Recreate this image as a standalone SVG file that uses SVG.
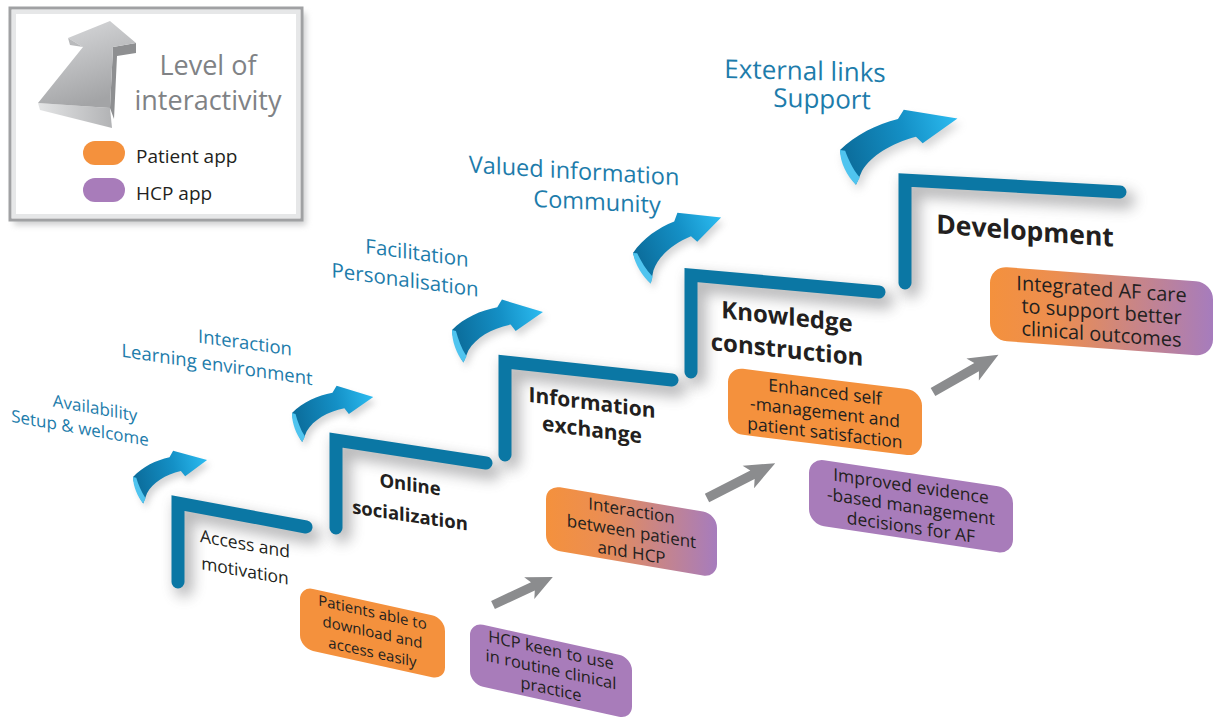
<svg xmlns="http://www.w3.org/2000/svg" width="1215" height="722" viewBox="0 0 1215 722">
  <defs>
    <style>
      text { font-family: "Open Sans", "Noto Sans", "Liberation Sans", sans-serif; }
      .lbl { fill: #1d7cab; text-anchor: middle; }
      .step { fill: #231f20; font-weight: 700; text-anchor: middle; }
      .stepr { fill: #231f20; text-anchor: middle; }
      .bt { fill: #231f20; text-anchor: middle; }
      .stair { fill: none; stroke: #0b77a4; stroke-width: 13; stroke-linecap: round; stroke-linejoin: miter; }
      .stair-sh { fill: none; stroke: #58595b; stroke-width: 18; stroke-linecap: round; opacity: 0.42; filter: url(#soft); }
      .garrow { fill: #8b8c8e; }
      .orange { fill: #f4913d; }
      .purple { fill: #a87cba; }
      .mix { fill: url(#mix); }
      .leg { fill: #808285; text-anchor: middle; font-size: 27px; }
      .legk { fill: #231f20; font-size: 19px; }
    </style>
    <filter id="soft" x="-30%" y="-30%" width="160%" height="160%">
      <feGaussianBlur stdDeviation="7"/>
    </filter>
    <filter id="blur3" x="-20%" y="-20%" width="140%" height="140%">
      <feGaussianBlur stdDeviation="3"/>
    </filter>
    <linearGradient id="mix" x1="0" y1="0" x2="1" y2="0">
      <stop offset="0" stop-color="#f4913d"/>
      <stop offset="0.3" stop-color="#ec8e50"/>
      <stop offset="1" stop-color="#a67cbd"/>
    </linearGradient>
    <linearGradient id="curlg" gradientUnits="userSpaceOnUse" x1="0" y1="0" x2="76" y2="0">
      <stop offset="0" stop-color="#0b6b99"/>
      <stop offset="0.55" stop-color="#1490c6"/>
      <stop offset="1" stop-color="#2cbcf1"/>
    </linearGradient>
    <linearGradient id="legFront" x1="0" y1="0" x2="0.4" y2="1">
      <stop offset="0" stop-color="#dcdddf"/>
      <stop offset="1" stop-color="#a3a4a6"/>
    </linearGradient>
    <linearGradient id="legBottom" x1="0" y1="0" x2="1" y2="0">
      <stop offset="0" stop-color="#e4e5e6"/>
      <stop offset="1" stop-color="#b2b3b5"/>
    </linearGradient>
    <!-- curled 3D arrow, tail at origin, tip on +x -->
    <g id="curl">
      <path d="M0,0 C12,-8 26,-11 40,-11 L45,-16.5 L76,0 L51,11 L48,5 C32,5 18,10 10,19 L4,28 C1,20 -1,8 0,0 Z" fill="url(#curlg)"/>
      <path d="M0,0 C-2,9 0,20 4,28 L7.5,23.5 C4.5,16 3.5,8 3,1.5 Z" fill="#4fc4ef"/>
    </g>
    <path id="curlShadow" d="M0,0 C12,-8 26,-11 40,-11 L45,-16.5 L76,0 L51,11 L48,5 C32,5 18,10 10,19 L4,28 C1,20 -1,8 0,0 Z"/>
    <!-- straight grey arrow, tail at origin -->
    <path id="garr" d="M0,-4.5 L44,-4.5 L40,-12 L66,0 L40,12 L44,4.5 L0,4.5 Z"/>
  </defs>

  <rect width="1215" height="722" fill="#ffffff"/>

  <!-- legend -->
  <g id="legend">
    <rect x="14" y="13" width="292" height="212" fill="#9c9d9f" opacity="0.5" filter="url(#blur3)"/>
    <rect x="10" y="8" width="292" height="212" fill="#ffffff" stroke="#a0a1a3" stroke-width="3"/>
    <rect x="14" y="12" width="284" height="204" fill="none" stroke="#e6e7e8" stroke-width="4"/>
    <!-- 3D arrow: bottom face, side face, front face, barb top -->
    <path d="M38,103 L110,108 L112,128 L40,110 Z" fill="url(#legBottom)"/>
    <path d="M136,43 L136,53 L117,56 L114,119 L110,108 L113,47 Z" fill="#8e8f91"/>
    <path d="M68,38 L110,21 L136,43 L113,47 L110,108 L38,103 L83,47 Z" fill="url(#legFront)"/>
    <path d="M68,38 L70,45 L83,47 Z" fill="#b9babc"/>
    <text class="leg" x="208" y="75">Level of</text>
    <text class="leg" x="208" y="110">interactivity</text>
    <rect class="orange" x="83" y="141" width="42" height="24" rx="12"/>
    <rect class="purple" x="83" y="178" width="42" height="24" rx="12"/>
    <text class="legk" x="136" y="163">Patient app</text>
    <text class="legk" x="136" y="200">HCP app</text>
  </g>

  <!-- stair shadows -->
  <g id="stair-shadows">
    <path class="stair-sh" d="M184,588 L184,511 L312,535"/>
    <path class="stair-sh" d="M342,534 L342,448 L492,471"/>
    <path class="stair-sh" d="M511,461 L511,370 L678,388"/>
    <path class="stair-sh" d="M697,378 L697,283 L885,300"/>
    <path class="stair-sh" d="M911,289 L911,188 L1126,200"/>
  </g>

  <!-- stairs -->
  <g id="step-access">
    <path class="stair" d="M178,582 L178,503 L306,527"/>
    <text class="stepr" font-size="17.5" transform="translate(245,550) skewY(10)">
      <tspan x="0" y="0">Access and</tspan><tspan x="0" y="27">motivation</tspan>
    </text>
  </g>
  <g id="step-online">
    <path class="stair" d="M336,528 L336,440 L486,463"/>
    <text class="step" font-size="18.5" transform="translate(410,491) skewY(8.5)">
      <tspan x="0" y="0">Online</tspan><tspan x="0" y="31">socialization</tspan>
    </text>
  </g>
  <g id="step-information">
    <path class="stair" d="M505,455 L505,362 L672,380"/>
    <text class="step" font-size="21" transform="translate(592,410) skewY(7.3)">
      <tspan x="0" y="0">Information</tspan><tspan x="0" y="27">exchange</tspan>
    </text>
  </g>
  <g id="step-knowledge">
    <path class="stair" d="M691,372 L691,275 L879,292"/>
    <text class="step" font-size="24" transform="translate(787,325) skewY(6)">
      <tspan x="0" y="0">Knowledge</tspan><tspan x="0" y="33">construction</tspan>
    </text>
  </g>
  <g id="step-development">
    <path class="stair" d="M905,283 L905,180 L1120,192"/>
    <text class="step" font-size="26.5" transform="translate(1025,240) skewY(4.3)">Development</text>
  </g>

  <!-- feature labels above the stairs -->
  <g id="label-availability">
    <text class="lbl" font-size="17" transform="translate(95,414) skewY(10)">Availability</text>
    <text class="lbl" font-size="17" transform="translate(80,434) skewY(10)">Setup &amp; welcome</text>
  </g>
  <g id="label-interaction">
    <text class="lbl" font-size="18.5" transform="translate(245,349) skewY(8)">Interaction</text>
    <text class="lbl" font-size="18.5" transform="translate(217,371) skewY(8.5)">Learning environment</text>
  </g>
  <g id="label-facilitation">
    <text class="lbl" font-size="20.5" transform="translate(417,260) skewY(7.5)">Facilitation</text>
    <text class="lbl" font-size="20.5" transform="translate(405,287) skewY(7.5)">Personalisation</text>
  </g>
  <g id="label-valued">
    <text class="lbl" font-size="23.5" transform="translate(574,179) skewY(3.5)">Valued information</text>
    <text class="lbl" font-size="23.5" transform="translate(597,210) skewY(3)">Community</text>
  </g>
  <g id="label-external">
    <text class="lbl" font-size="26" transform="translate(805,80) skewY(1.5)">External links</text>
    <text class="lbl" font-size="26" transform="translate(822,108) skewY(1.5)">Support</text>
  </g>

  <!-- outcome boxes -->
  <g id="box-download" transform="translate(300,586) skewY(12.5)">
    <rect class="orange" width="145" height="62" rx="13"/>
    <text class="bt" font-size="15"><tspan x="72.5" y="15.5">Patients able to</tspan><tspan x="72.5" y="35.5">download and</tspan><tspan x="72.5" y="55.5">access easily</tspan></text>
  </g>
  <g id="box-hcp-keen" transform="translate(470,622) skewY(12.4)">
    <rect class="purple" width="162" height="62" rx="13"/>
    <text class="bt" font-size="16.5"><tspan x="81" y="16">HCP keen to use</tspan><tspan x="81" y="35.5">in routine clinical</tspan><tspan x="81" y="55">practice</tspan></text>
  </g>
  <g id="box-interaction" transform="translate(546,485) skewY(9.6)">
    <rect class="mix" width="171" height="64" rx="14"/>
    <text class="bt" font-size="17"><tspan x="85.5" y="17">Interaction</tspan><tspan x="85.5" y="38">between patient</tspan><tspan x="85.5" y="59">and HCP</tspan></text>
  </g>
  <g id="box-self-management" transform="translate(728,367) skewY(7)">
    <rect class="orange" width="194" height="66" rx="15"/>
    <text class="bt" font-size="17.5"><tspan x="97" y="19">Enhanced self</tspan><tspan x="97" y="39.5">-management and</tspan><tspan x="97" y="60">patient satisfaction</tspan></text>
  </g>
  <g id="box-evidence" transform="translate(809,458) skewY(8.5)">
    <rect class="purple" width="204" height="66" rx="15"/>
    <text class="bt" font-size="17.5"><tspan x="102" y="19">Improved evidence</tspan><tspan x="102" y="39.5">-based management</tspan><tspan x="102" y="60">decisions for AF</tspan></text>
  </g>
  <g id="box-integrated" transform="translate(990,266) skewY(4.2)">
    <rect class="mix" width="223" height="74" rx="17"/>
    <text class="bt" font-size="20"><tspan x="111.5" y="22">Integrated AF care</tspan><tspan x="111.5" y="44.5">to support better</tspan><tspan x="111.5" y="67">clinical outcomes</tspan></text>
  </g>

  <!-- connectors -->
  <g id="connectors">
    <g id="curls">
      <use href="#curlShadow" fill="#8a8b8d" opacity="0.35" filter="url(#blur3)" transform="translate(136,482) rotate(-13)"/>
      <use href="#curlShadow" fill="#8a8b8d" opacity="0.35" filter="url(#blur3)" transform="translate(295,418) rotate(-11.2) scale(1.09)"/>
      <use href="#curlShadow" fill="#8a8b8d" opacity="0.35" filter="url(#blur3)" transform="translate(455,335) rotate(-11.2) scale(1.22)"/>
      <use href="#curlShadow" fill="#8a8b8d" opacity="0.35" filter="url(#blur3)" transform="translate(636,258) rotate(-22) scale(1.25)"/>
      <use href="#curlShadow" fill="#8a8b8d" opacity="0.35" filter="url(#blur3)" transform="translate(843,156) rotate(-15) scale(1.6,1.35)"/>
      <use href="#curl" transform="translate(133,477) rotate(-13)"/>
      <use href="#curl" transform="translate(292,413) rotate(-11.2) scale(1.09)"/>
      <use href="#curl" transform="translate(452,330) rotate(-11.2) scale(1.22)"/>
      <use href="#curl" transform="translate(633,253) rotate(-22) scale(1.25)"/>
      <use href="#curl" transform="translate(840,150) rotate(-15) scale(1.6,1.35)"/>
    </g>
    <g id="outcome-arrows">
      <use href="#garr" class="garrow" transform="translate(493,605) rotate(-25)"/>
      <use href="#garr" class="garrow" transform="translate(707,498) rotate(-27) scale(1.16,1.05)"/>
      <use href="#garr" class="garrow" transform="translate(933,392) rotate(-29.6) scale(1.14,1.05)"/>
    </g>
  </g>
</svg>
